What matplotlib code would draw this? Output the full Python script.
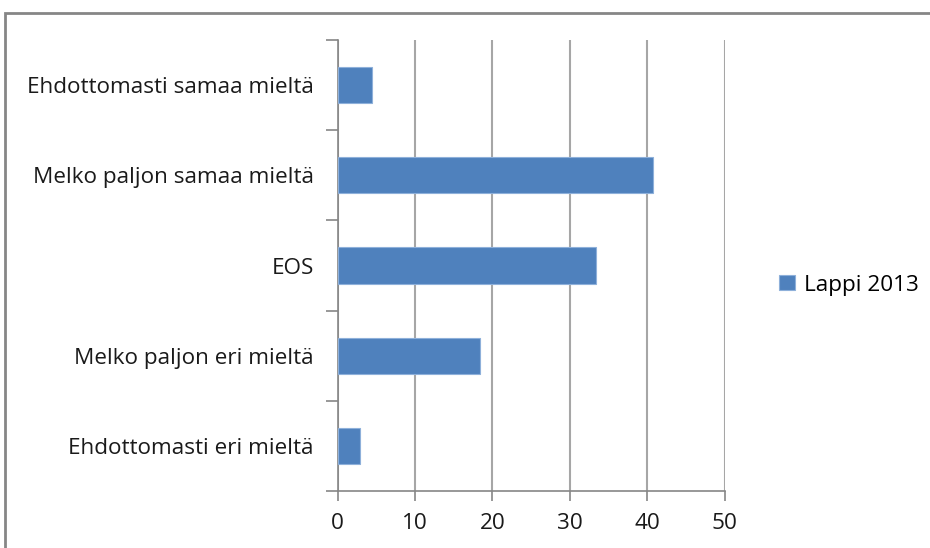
import matplotlib.pyplot as plt
from matplotlib.patches import Rectangle

# --- data ---
categories = ['Ehdottomasti eri mieltä', 'Melko paljon eri mieltä', 'EOS',
              'Melko paljon samaa mieltä', 'Ehdottomasti samaa mieltä']
values = [2.95, 18.45, 33.35, 40.8, 4.4]
series_name = 'Lappi 2013'
x_ticks = [0, 10, 20, 30, 40, 50]

plt.rcParams['font.family'] = ['Open Sans', 'DejaVu Sans']
FS = 16.2

fig = plt.figure(figsize=(9.3, 5.48), dpi=100)
ax = fig.add_axes([337.5 / 930, 1 - 491 / 548, 387 / 930, 451 / 548])

ypos = list(range(len(categories)))
bars = ax.barh(ypos, values, height=0.4, color='#4F81BD', edgecolor='#8EB0DA',
               linewidth=0.8, label=series_name, zorder=3)

ax.set_xlim(0, 50)
ax.set_ylim(-0.5, len(categories) - 0.5)
ax.set_xticks(x_ticks)
ax.set_xticklabels([str(t) for t in x_ticks], fontsize=FS, color='#1a1a1a')
ax.set_yticks(ypos)
ax.set_yticklabels(categories, fontsize=FS, color='#1a1a1a')
ax.tick_params(axis='y', which='major', length=0, pad=17)
ax.set_yticks([i - 0.5 for i in range(len(categories) + 1)], minor=True)
ax.tick_params(axis='y', which='minor', length=9, width=1.2, color='#868686')
ax.tick_params(axis='x', length=7, width=1.2, color='#868686', pad=8.5)

ax.grid(axis='x', color='#A6A6A6', linewidth=1.5, zorder=0)
for s in ['top', 'right']:
    ax.spines[s].set_visible(False)
for s in ['left', 'bottom']:
    ax.spines[s].set_color('#868686')
    ax.spines[s].set_linewidth(1.2)

fig.legend(handles=[bars], labels=[series_name], loc='center left',
           bbox_to_anchor=(759 / 930, 1 - 285 / 548), frameon=False,
           fontsize=FS, handlelength=0.68, handleheight=0.68, handletextpad=0.4)

# outer chart frame (runs off the right and bottom edges)
fig.patches.append(Rectangle((5 / 930, -0.1), 1.0, 1 - 13 / 548 + 0.1,
                             transform=fig.transFigure, fill=False,
                             edgecolor='#868686', linewidth=2))

fig.savefig('out.png', dpi=100)
